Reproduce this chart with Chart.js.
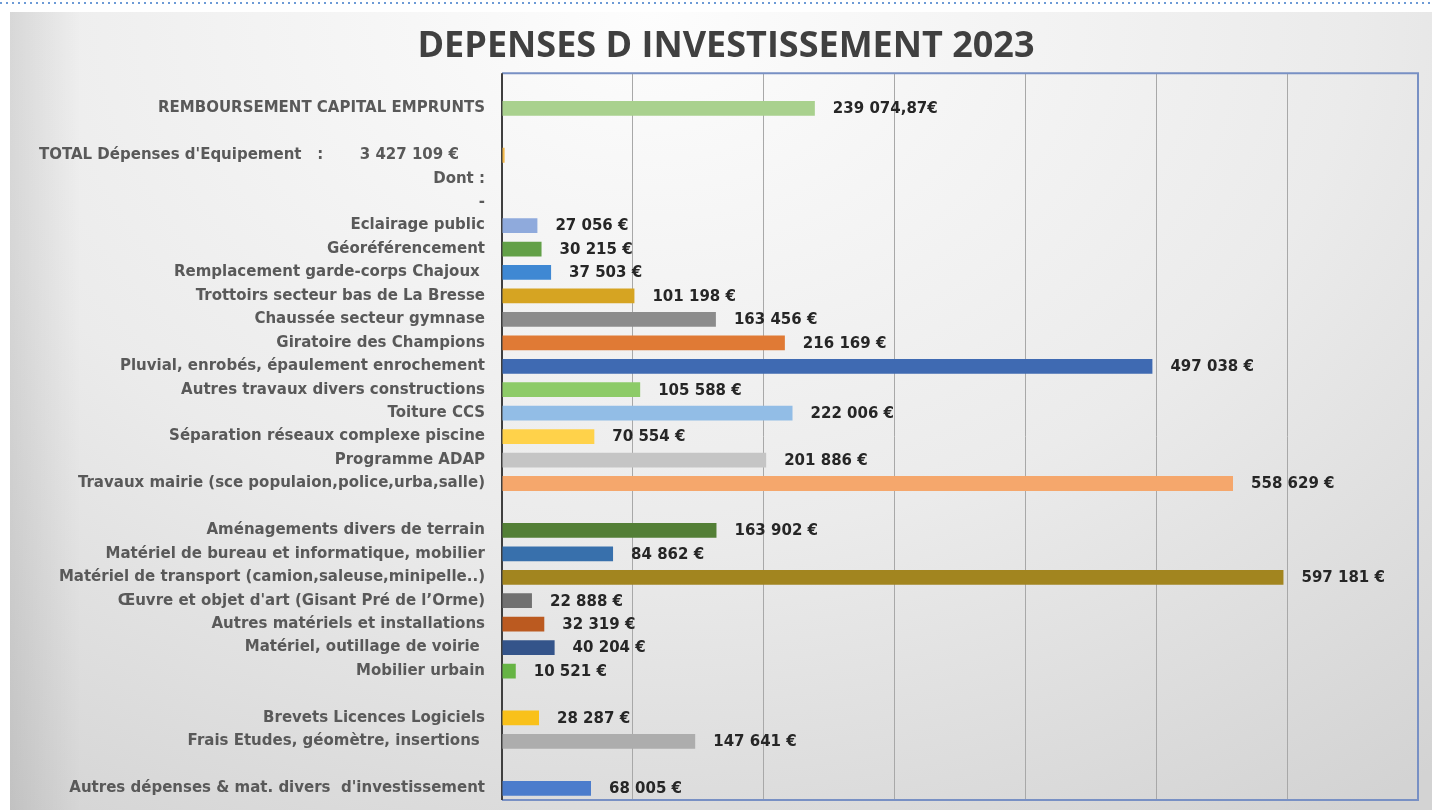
<!DOCTYPE html>
<html>
<head>
<meta charset="utf-8">
<script src="https://cdn.jsdelivr.net/npm/chart.js@4"></script>
<style>
  body { margin: 0; background: #fff; width: 1432px; height: 810px; overflow: hidden; }
  #dots { position: absolute; left: 0; top: 2px; width: 1432px; height: 2px;
    background: repeating-linear-gradient(to right, #6d9bd6 0 2px, transparent 2px 6px); }
  #wrap { position: absolute; left: 10px; top: 12px; width: 1422px; height: 798px;
    background:
      linear-gradient(to right, rgba(0,0,0,0.09), rgba(0,0,0,0) 5%),
      radial-gradient(ellipse 90% 120% at 45% 0%, #fdfdfd 0%, #ebebeb 55%, #d3d3d3 100%); }
  canvas { display: block; }
</style>
</head>
<body>
<div id="dots"></div>
<div id="wrap"><canvas id="chart" width="1422" height="798"></canvas></div>
<script>
const categories = [
  '',
  'REMBOURSEMENT CAPITAL EMPRUNTS',
  '',
  "TOTAL Dépenses d'Equipement   :       3 427 109 €     ",
  'Dont :',
  '-',
  'Eclairage public',
  'Géoréférencement',
  'Remplacement garde-corps Chajoux ',
  'Trottoirs secteur bas de La Bresse',
  'Chaussée secteur gymnase',
  'Giratoire des Champions',
  'Pluvial, enrobés, épaulement enrochement',
  'Autres travaux divers constructions',
  'Toiture CCS',
  'Séparation réseaux complexe piscine',
  'Programme ADAP',
  'Travaux mairie (sce populaion,police,urba,salle)',
  '',
  'Aménagements divers de terrain',
  'Matériel de bureau et informatique, mobilier',
  'Matériel de transport (camion,saleuse,minipelle..)',
  "Œuvre et objet d'art (Gisant Pré de l’Orme)",
  'Autres matériels et installations',
  'Matériel, outillage de voirie ',
  'Mobilier urbain',
  '',
  'Brevets Licences Logiciels',
  'Frais Etudes, géomètre, insertions ',
  '',
  "Autres dépenses & mat. divers  d'investissement"
];

const values = [
  null, 239074.87, null, 2000, null, null,
  27056, 30215, 37503, 101198, 163456, 216169, 497038, 105588, 222006, 70554, 201886, 558629,
  null,
  163902, 84862, 597181, 22888, 32319, 40204, 10521,
  null,
  28287, 147641,
  null,
  68005
];

// rows whose bar carries no value label
const unlabelled = [3];

const colors = [
  null, '#a9d18e', null, '#f2b84b', null, null,
  '#8faadc', '#62a047', '#3f88d3', '#d6a422', '#8c8c8c', '#e07a35', '#3f6ab2', '#8dcb68', '#92bde6', '#ffd24a', '#c5c5c5', '#f5a76c',
  null,
  '#537f36', '#3870ac', '#a2851f', '#717171', '#bb5a20', '#34548a', '#66b444',
  null,
  '#f9c11a', '#adadad',
  null,
  '#4b7ccc'
];

const xTicks = [0, 100000, 200000, 300000, 400000, 500000, 600000, 700000];

function euro(v) {
  const whole = Math.floor(v);
  const s = String(whole).replace(/\B(?=(\d{3})+(?!\d))/g, ' ');
  if (v !== whole) {
    return s + ',' + Math.round((v - whole) * 100).toString().padStart(2, '0') + '€';
  }
  return s + ' €';
}

const valueLabels = {
  id: 'valueLabels',
  afterDatasetsDraw(chart) {
    const ctx = chart.ctx;
    const meta = chart.getDatasetMeta(0);
    ctx.save();
    ctx.font = 'bold 15px "DejaVu Sans", sans-serif';
    ctx.fillStyle = '#262626';
    ctx.textBaseline = 'middle';
    ctx.textAlign = 'left';
    meta.data.forEach((bar, i) => {
      const v = values[i];
      if (v == null || unlabelled.includes(i)) return;
      ctx.fillText(euro(v), bar.x + 18, bar.y + 1);
    });
    ctx.restore();
  }
};

const plotFrame = {
  id: 'plotFrame',
  beforeDatasetsDraw(chart) {
    const a = chart.chartArea;
    const ctx = chart.ctx;
    ctx.save();
    ctx.strokeStyle = '#7890c4';
    ctx.lineWidth = 2;
    ctx.beginPath();
    ctx.moveTo(a.left, a.top);
    ctx.lineTo(a.right, a.top);
    ctx.lineTo(a.right, a.bottom);
    ctx.lineTo(a.left, a.bottom);
    ctx.stroke();
    ctx.strokeStyle = '#3f3f3f';
    ctx.beginPath();
    ctx.moveTo(a.left, a.top);
    ctx.lineTo(a.left, a.bottom);
    ctx.stroke();
    ctx.restore();
  }
};

new Chart(document.getElementById('chart'), {
  type: 'bar',
  data: {
    labels: categories,
    datasets: [{
      data: values,
      backgroundColor: colors,
      borderWidth: 0,
      categoryPercentage: 1,
      barPercentage: 0.63
    }]
  },
  options: {
    indexAxis: 'y',
    responsive: false,
    animation: false,
    layout: { padding: { left: 24, right: 14, top: 0, bottom: 10 } },
    plugins: {
      legend: { display: false },
      tooltip: { enabled: false },
      title: {
        display: true,
        text: 'DEPENSES D INVESTISSEMENT 2023',
        color: '#404040',
        font: { family: "'Open Sans', sans-serif", size: 36, weight: 'bold' },
        padding: { top: 13, bottom: 5 }
      }
    },
    scales: {
      x: {
        min: 0,
        max: 700000,
        afterBuildTicks(s) { s.ticks = xTicks.map(v => ({ value: v })); },
        afterFit(s) { s.height = 0; },
        ticks: { display: false },
        grid: { color: '#a8a8a8', lineWidth: 1, drawTicks: false },
        border: { display: false }
      },
      y: {
        afterFit(s) { s.width = 468; s.paddingTop = 0; s.paddingBottom = 0; },
        ticks: {
          autoSkip: false,
          padding: 17,
          color: '#595959',
          font: { family: "'DejaVu Sans', sans-serif", size: 15, weight: 'bold' }
        },
        grid: { display: false, drawTicks: false },
        border: { display: false }
      }
    }
  },
  plugins: [plotFrame, valueLabels]
});
</script>
</body>
</html>
